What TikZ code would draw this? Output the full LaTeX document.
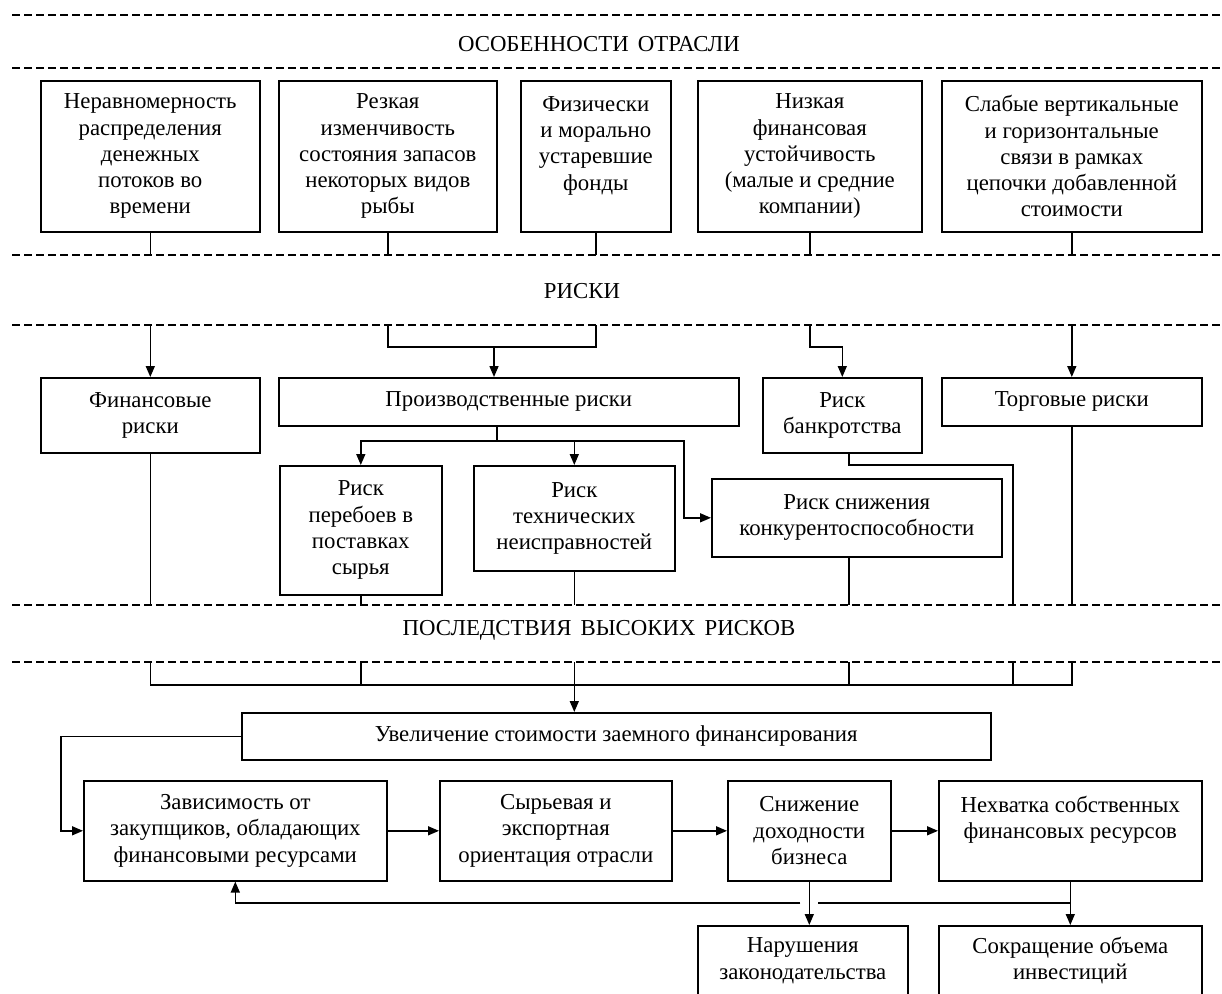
\documentclass[tikz,border=0pt]{standalone}
\usepackage{fontspec}
\setmainfont{Liberation Serif}
\usetikzlibrary{arrows.meta,calc}
\tikzset{
  blk/.style={draw,line width=1.6pt,align=center,inner sep=0pt,anchor=north west},
  sep/.style={line width=1.5pt,dash pattern=on 8pt off 4pt},
  hdr/.style={inner sep=0pt}
}
\begin{document}
\begin{tikzpicture}[x=1pt,y=-1pt,>={Triangle[length=11pt,width=9pt]},line width=1.5pt,font={\fontsize{22.8}{26.3}\selectfont}]
\useasboundingbox (0,0) rectangle (1222,993);
\clip (0,0) rectangle (1222,993);
% dashed separators
\foreach \y/\n in {15/1,68/2,255/3,325/4,605/5,662/6}{
  \draw[sep] (12,\y) -- (1222,\y);
  \coordinate (d\n) at (12,\y);
}
\node[hdr] (hdr1) at (599,44) {ОСОБЕННОСТИ\hspace{0.4em}ОТРАСЛИ};
\node[hdr] (hdr2) at (582,291) {РИСКИ};
\node[hdr] (hdr3) at (599,630) {ПОСЛЕДСТВИЯ\hspace{0.4em}ВЫСОКИХ\hspace{0.4em}РИСКОВ};

% features of the industry
\node[blk,minimum width=219pt,minimum height=151pt] (osob1) at (40,80) {Неравномерность\\распределения\\денежных\\потоков во\\времени};
\node[blk,minimum width=218pt,minimum height=151pt] (osob2) at (278,80) {Резкая\\изменчивость\\состояния запасов\\некоторых видов\\рыбы};
\node[blk,minimum width=150pt,minimum height=151pt] (osob3) at (520,80) {Физически\\и морально\\устаревшие\\фонды\\\mbox{}};
\node[blk,minimum width=224pt,minimum height=151pt] (osob4) at (697,80) {Низкая\\финансовая\\устойчивость\\(малые и средние\\компании)};
\node[blk,minimum width=260pt,minimum height=151pt] (osob5) at (941,80) {Слабые вертикальные\\и горизонтальные\\связи в рамках\\цепочки добавленной\\стоимости};
\foreach \b in {osob1,osob2,osob3,osob4,osob5}
  \draw (\b.south) -- (\b.south |- d3);

% risks
\node[blk,minimum width=219pt,minimum height=75pt] (fin) at (40,377) {Финансовые\\риски};
\node[blk,minimum width=460pt,minimum height=48pt] (proiz) at (278,377) {Производственные риски};
\node[blk,minimum width=159pt,minimum height=75pt] (bankr) at (762,377) {Риск\\банкротства};
\node[blk,minimum width=260pt,minimum height=48pt] (torg) at (941,377) {Торговые риски};
\node[blk,minimum width=162pt,minimum height=129pt] (pereb) at (279,465) {Риск\\перебоев в\\поставках\\сырья};
\node[blk,minimum width=201pt,minimum height=105pt] (tehn) at (473,465) {Риск\\технических\\неисправностей};
\node[blk,minimum width=290pt,minimum height=78pt] (konk) at (711,478) {Риск снижения\\конкурентоспособности};

\coordinate (pj) at (494,347);
\coordinate (pk) at (497,441);
\coordinate (bk) at (1013,465);
\coordinate (ks) at (849,556);
\draw[->] (fin.north |- d4) -- (fin.north);
\draw (osob2.south |- d4) |- (pj) -| (osob3.south |- d4);
\draw[->] (pj) -- (pj |- proiz.north);
\draw[->] (osob4.south |- d4) |- (pj -| bankr.north) -- (bankr.north);
\draw[->] (torg.north |- d4) -- (torg.north);
\draw (pk |- proiz.south) -- (pk);
\draw[->] (pk) -| (pereb.north);
\draw[->] (pk) -| (tehn.north);
\draw[->] (pk) -| ($(konk.west)+(-27,0)$) -- (konk.west);
\draw (ks |- bankr.south) |- (bk) -- (bk |- d5);
\draw (ks) -- (ks |- d5);
\foreach \b in {fin,pereb,tehn,torg}
  \draw (\b.south) -- (\b.south |- d5);

% consequences
\node[blk,minimum width=749pt,minimum height=47pt] (uvel) at (241,712) {Увеличение стоимости заемного финансирования};
\node[blk,minimum width=303pt,minimum height=100pt] (zav) at (83,780) {Зависимость от\\закупщиков, обладающих\\финансовыми ресурсами};
\node[blk,minimum width=232pt,minimum height=100pt] (syr) at (439,780) {Сырьевая и\\экспортная\\ориентация отрасли};
\node[blk,minimum width=163pt,minimum height=100pt] (snizh) at (727,780) {Снижение\\доходности\\бизнеса};
\node[blk,minimum width=263pt,minimum height=100pt] (nehv) at (938,780) {Нехватка собственных\\финансовых ресурсов\\\mbox{}};
\node[blk,minimum width=210pt,minimum height=92pt] (narush) at (697,925) {Нарушения\\законодательства\\\mbox{}};
\node[blk,minimum width=263pt,minimum height=92pt] (sokr) at (938,925) {Сокращение объема\\инвестиций\\\mbox{}};

\coordinate (hb) at (0,685);
\coordinate (fb) at (0,903);
\draw (fin.south |- d6) |- (torg.south |- hb) -- (torg.south |- d6);
\foreach \b in {pereb.south,tehn.south,ks,bk}
  \draw (\b |- d6) -- (\b |- hb);
\draw[->] (tehn.south |- hb) -- (tehn.south |- uvel.north);
\draw[->] (uvel.west) -| ($(zav.west)+(-22,0)$) -- (zav.west);
\draw[->] (zav.east) -- (syr.west);
\draw[->] (syr.east) -- (snizh.west);
\draw[->] (snizh.east) -- (nehv.west);
\draw[->] (snizh.south) -- (snizh.south |- narush.north);
\draw[->] (nehv.south) -- (sokr.north);
\draw (nehv.south |- fb) -- ($(snizh.south |- fb)+(9,0)$);
\draw[->] ($(snizh.south |- fb)+(-9,0)$) -| (zav.south);
\end{tikzpicture}
\end{document}
